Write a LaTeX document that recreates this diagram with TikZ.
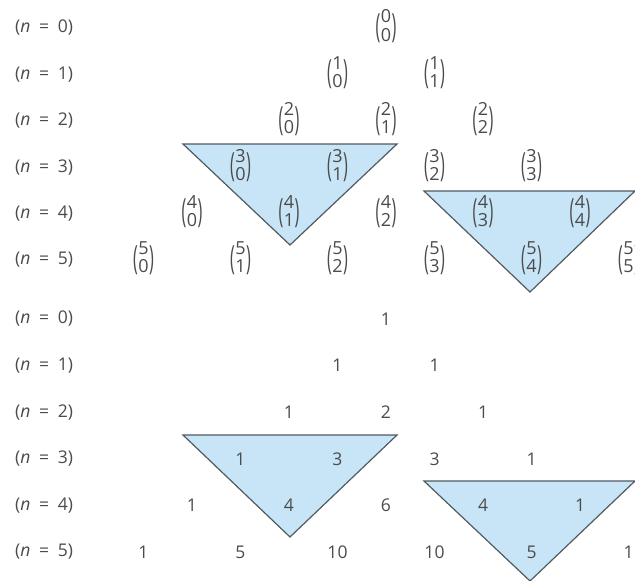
\documentclass[tikz,border=0pt]{standalone}
\usepackage{amsmath}
\usepackage{graphicx}
\usepackage{fontspec}
\setmainfont{Open Sans}
\definecolor{txt}{RGB}{75,75,75}
\definecolor{trifill}{RGB}{200,229,247}
\definecolor{triline}{RGB}{80,90,95}
\newcommand{\tallparen}[1]{\vcenter{\hbox{\scalebox{0.9}[1.85]{#1}}}}
\newcommand{\bnm}[2]{$\tallparen{(}\mkern0.5mu\vcenter{\hbox{\renewcommand{\arraystretch}{0.9}\begin{tabular}{@{}c@{}}#1\\#2\end{tabular}}}\mkern0.5mu\tallparen{)}$}
\newcommand{\rowlab}[1]{(\textit{n}\hspace{0.5em}=\hspace{0.5em}#1)}
\begin{document}
\begin{tikzpicture}[x=1pt,y=-1pt,
  every node/.style={text=txt,font=\fontsize{17.5}{19}\selectfont,inner sep=0pt},
  rowlabel/.style={anchor=west},
  binom/.style={font=\fontsize{18}{19}\selectfont},
  tri/.style={fill=trifill,draw=triline,line width=1.2pt,line join=miter}]
\useasboundingbox (0,0) rectangle (635,581);
% triangles
\draw[tri] (183,144) -- (397,144) -- (290,245) -- cycle;
\draw[tri] (424,191) -- (635,191) -- (530,292) -- cycle;
\draw[tri] (183,435) -- (397,435) -- (290,537) -- cycle;
\draw[tri] (424,481) -- (635,481) -- (530,581) -- cycle;
% top half
\foreach \n in {0,...,5}{
  \node[rowlabel] (tl\n) at (15,{28+46.4*\n}) {\rowlab{\n}};
  \foreach \k in {0,...,\n}{
    \node[binom] (b\n\k) at ({386+(2*\k-\n)*48.5},{28+46.4*\n}) {\bnm{\n}{\k}};
  }
}
% bottom half
\foreach \n in {0,...,5}{
  \node[rowlabel] (bl\n) at (15,{319+46.6*\n}) {\rowlab{\n}};
}
\foreach \n/\k/\v in {0/0/1,1/0/1,1/1/1,2/0/1,2/1/2,2/2/1,3/0/1,3/1/3,3/2/3,3/3/1,
  4/0/1,4/1/4,4/2/6,4/3/4,4/4/1,5/0/1,5/1/5,5/2/10,5/3/10,5/4/5,5/5/1}{
  \node (p\n\k) at ({386+(2*\k-\n)*48.5},{319+46.6*\n}) {\v};
}
\end{tikzpicture}
\end{document}
